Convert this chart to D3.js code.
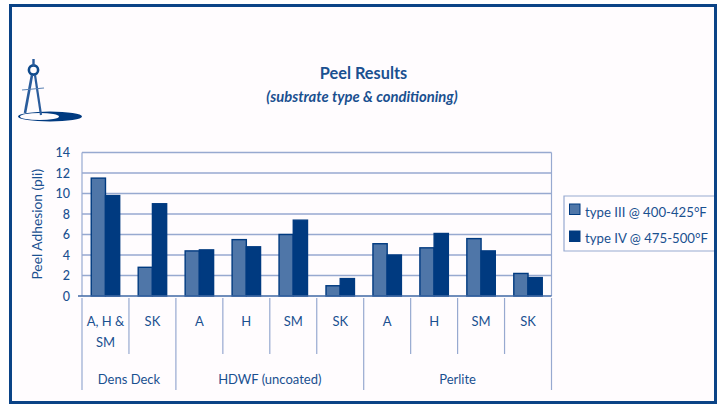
<!DOCTYPE html>
<html>
<head>
<meta charset="utf-8">
<script src="https://cdn.jsdelivr.net/npm/d3@7/dist/d3.min.js"></script>
<style>
html,body{margin:0;padding:0;background:#fff;}
svg{display:block;}
text{font-family:Lato,"Open Sans",sans-serif;fill:#1a5090;}
</style>
</head>
<body>
<svg id="chart" width="720" height="404"></svg>
<script>
// Peel adhesion by substrate and conditioning
const groups = [
  {name: "Dens Deck", size: 2},
  {name: "HDWF (uncoated)", size: 4},
  {name: "Perlite", size: 4}
];
const categories = [["A, H &","SM"],["SK"],["A"],["H"],["SM"],["SK"],["A"],["H"],["SM"],["SK"]];
const typeIII = [11.5, 2.8, 4.4, 5.5, 6.0, 1.0, 5.1, 4.7, 5.6, 2.2];
const typeIV  = [9.8, 9.0, 4.5, 4.8, 7.4, 1.7, 4.0, 6.1, 4.4, 1.8];
const seriesNames = ["type III @ 400-425°F", "type IV @ 475-500°F"];
const yTicks = [0, 2, 4, 6, 8, 10, 12, 14];

const dark = "#003a80", mid = "#4f76a8", gridCol = "#97a9d0";
const svg = d3.select("#chart");

// page frame
svg.append("rect").attr("x", 10.5).attr("y", 5.5).attr("width", 705).attr("height", 397)
  .attr("fill", "#fffcfe").attr("stroke", "#0a4386").attr("stroke-width", 3);

const plotLeft = 82, plotRight = 551.5, plotTop = 152.5, plotBottom = 296;
const x = d3.scaleBand().domain(d3.range(categories.length)).range([plotLeft, plotRight]);
const y = d3.scaleLinear().domain([0, 14]).range([plotBottom, plotTop]);
const inner = d3.scaleBand().domain([0, 1]).range([0, x.bandwidth()]).paddingInner(0).paddingOuter(0.65);

// gridlines
svg.append("g").selectAll("line").data(yTicks.filter(d => d > 0)).join("line")
  .attr("x1", plotLeft).attr("x2", plotRight).attr("y1", d => y(d)).attr("y2", d => y(d))
  .attr("stroke", gridCol).attr("stroke-width", 1.3);
[plotLeft, plotRight].forEach(xp => {
  svg.append("line").attr("x1", xp).attr("x2", xp).attr("y1", plotTop).attr("y2", plotBottom)
    .attr("stroke", gridCol).attr("stroke-width", 1.2);
});

// bars
const cat = svg.append("g").selectAll("g").data(categories).join("g")
  .attr("transform", (d, i) => `translate(${x(i)},0)`);
[typeIII, typeIV].forEach((vals, s) => {
  cat.append("rect")
    .attr("x", inner(s))
    .attr("width", inner.bandwidth())
    .attr("y", (d, i) => y(vals[i]))
    .attr("height", (d, i) => plotBottom - y(vals[i]))
    .attr("fill", s ? dark : mid)
    .attr("stroke", dark).attr("stroke-width", 1.4);
});

// baseline and value axis labels
svg.append("line").attr("x1", plotLeft - 4).attr("x2", plotRight).attr("y1", plotBottom).attr("y2", plotBottom)
  .attr("stroke", "#3f68a4").attr("stroke-width", 1.5);
svg.append("g").selectAll("text").data(yTicks).join("text")
  .attr("x", 70).attr("y", d => y(d) + 4.5).attr("text-anchor", "end")
  .attr("font-size", 12.5).attr("font-weight", 500).text(d => d);

svg.append("text").attr("transform", `translate(42,${(plotTop + plotBottom) / 2}) rotate(-90)`)
  .attr("text-anchor", "middle").attr("font-size", 13.8).text("Peel Adhesion (pli)");

// category separators and labels
const tickStart = 298, shortTick = 354, longTick = 390;
let idx = 0;
const groupEdges = [0];
groups.forEach(g => { idx += g.size; groupEdges.push(idx); });
d3.range(categories.length + 1).forEach(i => {
  const xp = i < categories.length ? x(i) : plotRight;
  svg.append("line").attr("x1", xp).attr("x2", xp).attr("y1", tickStart)
    .attr("y2", groupEdges.includes(i) ? longTick : shortTick)
    .attr("stroke", gridCol).attr("stroke-width", 1.2);
});
cat.each(function(d) {
  const t = d3.select(this);
  d.forEach((line, j) => {
    t.append("text").attr("x", x.bandwidth() / 2).attr("y", 326 + j * 21)
      .attr("text-anchor", "middle").attr("font-size", 13).text(line);
  });
});
groups.forEach((g, i) => {
  const a = x(groupEdges[i]);
  const b = groupEdges[i + 1] < categories.length ? x(groupEdges[i + 1]) : plotRight;
  svg.append("text").attr("x", (a + b) / 2).attr("y", 384)
    .attr("text-anchor", "middle").attr("font-size", 13).text(g.name);
});

// titles
svg.append("text").attr("x", 363.5).attr("y", 79).attr("text-anchor", "middle")
  .attr("font-size", 16.3).attr("font-weight", 700).text("Peel Results");
svg.append("text").attr("x", 362).attr("y", 102).attr("text-anchor", "middle")
  .attr("font-size", 14.8).attr("font-weight", 700).attr("font-style", "italic")
  .text("(substrate type & conditioning)");

// legend
svg.append("path").attr("d", "M714,196H564V251H714").attr("fill", "none")
  .attr("stroke", gridCol).attr("stroke-width", 1.2);
seriesNames.forEach((n, i) => {
  const swatchTop = 204 + i * 27;
  svg.append("rect").attr("x", 569.5).attr("y", swatchTop).attr("width", 10.5).attr("height", 10.5)
    .attr("fill", i ? dark : mid).attr("stroke", dark).attr("stroke-width", 1);
  svg.append("text").attr("x", 585).attr("y", 216.5 + i * 26).attr("font-size", 13.2).text(n);
});

// drafting compass emblem
const emblem = svg.append("g").attr("stroke", "#2a5c9c").attr("fill", "none");
emblem.append("ellipse").attr("cx", 50).attr("cy", 116.5).attr("rx", 32).attr("ry", 5)
  .attr("fill", dark).attr("stroke", "none");
emblem.append("ellipse").attr("cx", 39.5).attr("cy", 116.5).attr("rx", 19.5).attr("ry", 3.6)
  .attr("fill", "#fffcfe").attr("stroke", "none");
emblem.append("circle").attr("cx", 33.5).attr("cy", 70).attr("r", 4.6).attr("stroke-width", 2.6).attr("stroke", "#0f4a8c");
emblem.append("line").attr("x1", 33.5).attr("y1", 59).attr("x2", 33.5).attr("y2", 66).attr("stroke-width", 2.4);
emblem.append("line").attr("x1", 32).attr("y1", 75).attr("x2", 25).attr("y2", 113).attr("stroke-width", 2.6);
emblem.append("line").attr("x1", 35).attr("y1", 75).attr("x2", 41).attr("y2", 115).attr("stroke-width", 2.2);
emblem.append("line").attr("x1", 22).attr("y1", 90).attr("x2", 44).attr("y2", 88).attr("stroke-width", 1.2).attr("stroke", "#5b82b4");
</script>
</body>
</html>
